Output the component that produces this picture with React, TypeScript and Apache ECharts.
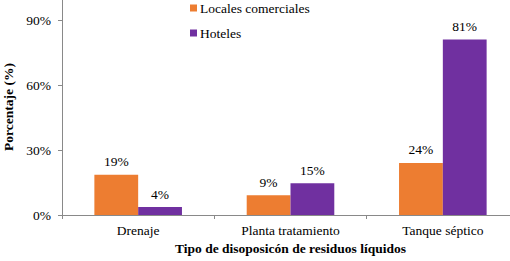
import React, { useEffect, useRef } from "react";
import * as echarts from "echarts";

const categories = ["Drenaje", "Planta tratamiento", "Tanque séptico"];
const seriesNames = ["Locales comerciales", "Hoteles"];
const locales = [18.6, 9.1, 24.1];
const hoteles = [3.7, 14.7, 81.2];
const colors = ["#ED7D31", "#7030A0"];

export default function App() {
  const ref = useRef<HTMLDivElement>(null);
  useEffect(() => {
    if (!ref.current) return;
    const chart = echarts.init(ref.current, null, { renderer: "svg" });
    const font = "Liberation Serif";
    const fs = 13.5;
    const label = {
      show: true,
      position: "top",
      distance: 6,
      color: "#000",
      fontFamily: font,
      fontSize: fs,
      formatter: (p: any) => Math.round(p.value) + "%",
    };
    chart.setOption({
      animation: false,
      textStyle: { fontFamily: font },
      grid: { left: 62, right: -9, top: -1, bottom: 46, containLabel: false, outerBoundsMode: "none" },
      legend: {
        orient: "vertical",
        left: 185,
        top: -4,
        icon: "rect",
        itemWidth: 7,
        itemHeight: 7,
        itemGap: 11,
        textStyle: { fontFamily: font, fontSize: fs, color: "#000", padding: [0, 0, 0, -2] },
        data: seriesNames,
      },
      xAxis: {
        type: "category",
        data: categories,
        name: "Tipo de disoposicón de residuos líquidos",
        nameLocation: "middle",
        nameGap: 26,
        nameTextStyle: { fontFamily: font, fontSize: fs, fontWeight: "bold", color: "#000" },
        axisLine: { lineStyle: { color: "#898989" } },
        axisTick: { show: true, length: 4, lineStyle: { color: "#898989" } },
        axisLabel: { fontFamily: font, fontSize: fs, color: "#000", margin: 8 },
      },
      yAxis: {
        type: "value",
        min: 0,
        max: 100,
        interval: 30,
        name: "Porcentaje (%)",
        nameLocation: "middle",
        nameRotate: 90,
        nameGap: 47,
        nameTextStyle: { fontFamily: font, fontSize: fs, fontWeight: "bold", color: "#000" },
        axisLine: { show: true, lineStyle: { color: "#898989" } },
        axisTick: { show: true, length: 4, lineStyle: { color: "#898989" } },
        splitLine: { show: false },
        axisLabel: {
          fontFamily: font,
          fontSize: fs,
          color: "#000",
          margin: 11,
          showMaxLabel: false,
          formatter: (v: number) => (v > 90 ? "" : v + "%"),
        },
      },
      series: [
        {
          name: seriesNames[0],
          type: "bar",
          data: locales,
          itemStyle: { color: colors[0] },
          barGap: "0%",
          barCategoryGap: "42.5%",
          label,
        },
        {
          name: seriesNames[1],
          type: "bar",
          data: hoteles,
          itemStyle: { color: colors[1] },
          barGap: "0%",
          barCategoryGap: "42.5%",
          label,
        },
      ],
    });
    return () => chart.dispose();
  }, []);
  return <div ref={ref} style={{ width: 510, height: 261, position: "absolute", left: 0, top: 0 }} />;
}
